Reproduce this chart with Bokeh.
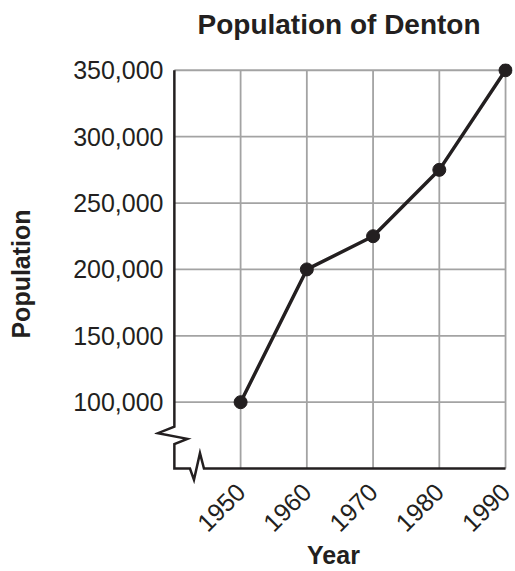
import math
from bokeh.plotting import figure
from bokeh.models import FixedTicker, NumeralTickFormatter, Range1d, Title
from bokeh.embed import file_html
from bokeh.resources import INLINE

# ---- data ----
years = [1950, 1960, 1970, 1980, 1990]
population = [100000, 200000, 225000, 275000, 350000]
x_ticks = [1950, 1960, 1970, 1980, 1990]
y_ticks = [100000, 150000, 200000, 250000, 300000, 350000]
title_text = "Population of Denton"
x_label = "Year"
y_label = "Population"
x_axis_at = 1940      # year where the (broken) y axis sits
y_axis_at = 50000     # value where the (broken) x axis sits

# ---- style ----
INK = "#231f20"
GRID = "#a3a3a3"
FONT = "Liberation Sans"

X0, X1 = 1937, 1991.05
Y0, Y1 = 38000, 355100
W, H = 515, 571
ML, MR, MT, MB = 154, 3, 63, 87
FW, FH = W - ML - MR, H - MT - MB

p = figure(width=W, height=H,
           x_range=Range1d(X0, X1), y_range=Range1d(Y0, Y1),
           output_backend="svg", toolbar_location=None,
           min_border_left=ML, min_border_right=MR,
           min_border_top=MT, min_border_bottom=MB)
p.outline_line_color = None
p.grid.visible = False
p.background_fill_color = "white"
p.border_fill_color = "white"

# a thin spacer between the frame and the title, then the title itself
p.add_layout(Title(text=" ", text_font_size="1px", standoff=21), "above")
p.add_layout(Title(text=title_text, text_font=FONT, text_font_size="28px",
                   text_font_style="bold", text_color=INK, align="left",
                   offset=43, vertical_align="bottom", standoff=0), "above")

for ax in (p.xaxis[0], p.yaxis[0]):
    ax.axis_line_color = None
    ax.major_tick_line_color = None
    ax.minor_tick_line_color = None
    ax.major_tick_in = 0
    ax.major_tick_out = 0
    ax.major_label_text_font = FONT
    ax.major_label_text_font_size = "25px"
    ax.major_label_text_color = INK
    ax.axis_label_text_font = FONT
    ax.axis_label_text_font_size = "25px"
    ax.axis_label_text_font_style = "bold"
    ax.axis_label_text_color = INK

p.xaxis.ticker = FixedTicker(ticks=x_ticks)
p.xaxis.major_label_orientation = math.pi / 4
p.xaxis.major_label_standoff = 3
p.xaxis.axis_label = x_label
p.xaxis.axis_label_standoff = -2

p.yaxis.ticker = FixedTicker(ticks=y_ticks)
p.yaxis.formatter = NumeralTickFormatter(format="0,0")
p.yaxis.major_label_standoff = -9
p.yaxis.axis_label = y_label
p.yaxis.axis_label_standoff = 35

# pixel -> data conversions
sx = FW / (X1 - X0)
sy = FH / (Y1 - Y0)
def dx(px):
    return px / sx
def dy(px):
    return px / sy

# gridlines
n, m = len(x_ticks), len(y_ticks)
p.segment(x0=x_ticks, y0=[y_axis_at] * n, x1=x_ticks, y1=[max(y_ticks)] * n,
          line_color=GRID, line_width=1.8)
p.segment(x0=[x_axis_at] * m, y0=y_ticks, x1=[max(x_ticks)] * m, y1=y_ticks,
          line_color=GRID, line_width=1.8)

# broken axes (zig-zag)
axis_xs = [x_axis_at, x_axis_at, x_axis_at - dx(16.4), x_axis_at + dx(13), x_axis_at,
           x_axis_at, x_axis_at + dx(15.6), x_axis_at + dx(19.6), x_axis_at + dx(25.6),
           x_axis_at + dx(29.6), max(x_ticks)]
axis_ys = [max(y_ticks), y_axis_at + dy(42), y_axis_at + dy(35.4), y_axis_at + dy(29.7),
           y_axis_at + dy(24.4), y_axis_at, y_axis_at, y_axis_at - dy(11.3),
           y_axis_at + dy(15.4), y_axis_at, y_axis_at]
p.line(axis_xs, axis_ys, line_color=INK, line_width=2.5, line_join="miter")

# data
p.line(years, population, line_color=INK, line_width=3.5)
p.scatter(years, population, size=13, fill_color=INK, line_color=INK)

open("out.html", "w").write(file_html(p, INLINE))
